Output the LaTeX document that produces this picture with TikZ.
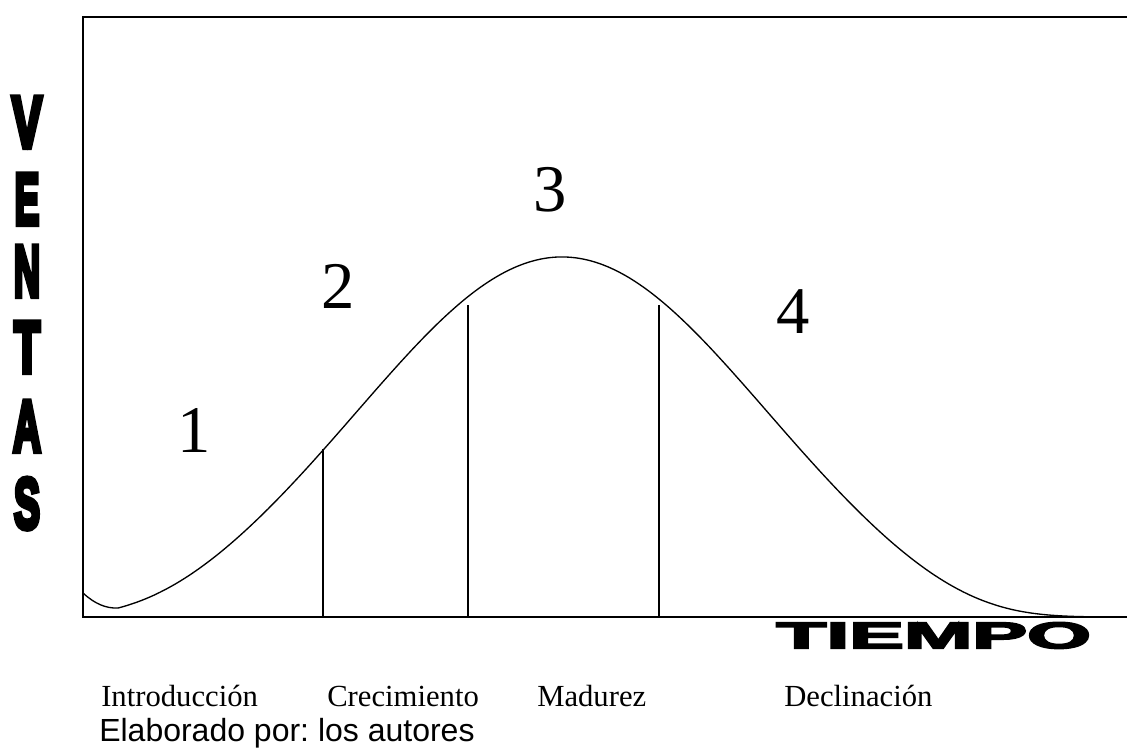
\documentclass[tikz,border=0pt]{standalone}
\usepackage{fontspec}
\setmainfont{Liberation Serif}
\newfontfamily\arialf{Liberation Sans}
\newfontfamily\impactf[FakeBold=4]{Liberation Sans Bold}
\newfontfamily\impactv[FakeBold=8]{Liberation Sans Bold}
\newcommand{\vlet}[2]{\resizebox{#1}{37.5pt}{\impactv #2}}
\frenchspacing
\begin{document}
\begin{tikzpicture}[x=0.75pt,y=-0.75pt,
  frame/.style={line width=1.5pt,black},
  curveline/.style={line width=1pt,black},
  divider/.style={line width=1pt,black},
  phase/.style={inner sep=0pt,anchor=base,font=\fontsize{50}{50}\selectfont},
  stage/.style={inner sep=0pt,anchor=base west,font=\fontsize{23}{25}\selectfont},
  credit/.style={inner sep=0pt,anchor=base west,font=\arialf\fontsize{24}{26}\selectfont},
  vletter/.style={inner sep=0pt,anchor=north},
]
\useasboundingbox (0,0) rectangle (1127,747);
% frame
\coordinate (tr) at (1127,17);
\coordinate (tl) at (83,17);
\coordinate (bl) at (83,617);
\coordinate (br) at (1127,617);
\draw[frame] (tr) -- (tl) -- (bl) -- (br);
% curve
\coordinate (c0) at (83,593);
\coordinate (cmin) at (118,608);
\draw[curveline] (c0) .. controls (95,604) and (106,608.5) .. (cmin);
\draw[curveline] plot[smooth,samples=160,domain=118:1092,variable=\x]
  ({\x},{617-360*exp(-((\x-562)/275)^2-(abs(\x-562)/439)^7)});
% dividers
\coordinate (d1t) at (323,449); \coordinate (d1b) at (323,617);
\coordinate (d2t) at (468,305); \coordinate (d2b) at (468,617);
\coordinate (d3t) at (659,305); \coordinate (d3b) at (659,617);
\draw[divider] (d1t) -- (d1b);
\draw[divider] (d2t) -- (d2b);
\draw[divider] (d3t) -- (d3b);
% phase numbers
\node[phase] (p1) at (194,452) {1};
\node[phase] (p2) at (338,308) {2};
\node[phase] (p3) at (550,211) {3};
\node[phase] (p4) at (793,333) {4};
% VENTAS
\node[vletter] (v1) at (27,97) {\vlet{22.5pt}{V}};
\node[vletter] (v2) at (27,174) {\vlet{18.5pt}{E}};
\node[vletter] (v3) at (27,246) {\vlet{19.5pt}{N}};
\node[vletter] (v4) at (27,322) {\vlet{19.5pt}{T}};
\node[vletter] (v5) at (27,401) {\vlet{21pt}{A}};
\node[vletter] (v6) at (27,478) {\vlet{19.5pt}{S}};
% TIEMPO
\node[inner sep=0pt,anchor=north west] (tiempo) at (776,622) {\resizebox{236pt}{19.5pt}{\impactf TIEMPO}};
% stages
\node[stage] (s1) at (101,706) {Introducción};
\node[stage] (s2) at (327,706) {Crecimiento};
\node[stage] (s3) at (537,706) {Madurez};
\node[stage] (s4) at (784,706) {Declinación};
\node[credit] (cr) at (99,741) {Elaborado por: los autores};
\end{tikzpicture}
\end{document}
